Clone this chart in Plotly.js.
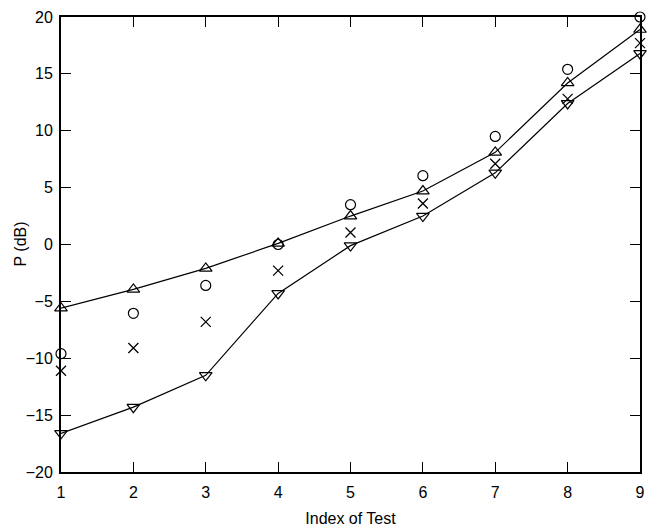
<!DOCTYPE html>
<html>
<head>
<meta charset="utf-8">
<script src="https://cdn.plot.ly/plotly-3.0.1.min.js"></script>
<style>html,body{margin:0;padding:0;background:#fff;}#chart{width:663px;height:532px;}</style>
</head>
<body>
<div id="chart"></div>
<script>
var testIndex = [1, 2, 3, 4, 5, 6, 7, 8, 9];
var upperBound = [-5.6, -3.95, -2.1, 0.1, 2.5, 4.7, 8.1, 14.2, 18.9];
var circleSeries = [-9.6, -6.05, -3.6, 0, 3.5, 6.05, 9.5, 15.4, 20];
var crossSeries = [-11.1, -9.1, -6.8, -2.3, 1.05, 3.6, 7.1, 12.8, 17.7];
var lowerBound = [-16.6, -14.3, -11.5, -4.3, -0.1, 2.5, 6.3, 12.4, 16.8];
var yTicks = [-20, -15, -10, -5, 0, 5, 10, 15, 20];

var traces = [
  {x: testIndex, y: upperBound, mode: 'lines+markers', cliponaxis: false,
   line: {color: '#000', width: 1.2},
   marker: {symbol: 'triangle-up-open', size: 11, color: '#000', line: {width: 1.2}}},
  {x: testIndex, y: lowerBound, mode: 'lines+markers', cliponaxis: false,
   line: {color: '#000', width: 1.2},
   marker: {symbol: 'triangle-down-open', size: 11, color: '#000', line: {width: 1.2}}},
  {x: testIndex, y: circleSeries, mode: 'markers', cliponaxis: false,
   marker: {symbol: 'circle-open', size: 10, color: '#000', line: {width: 1.2}}},
  {x: testIndex, y: crossSeries, mode: 'markers', cliponaxis: false,
   marker: {symbol: 'x-thin-open', size: 10, color: '#000', line: {width: 1.3}}}
];

var fam = '"Liberation Sans", Arial, sans-serif';
var layout = {
  width: 663, height: 532,
  margin: {l: 61, r: 23, t: 17, b: 60},
  paper_bgcolor: '#fff', plot_bgcolor: '#fff',
  showlegend: false,
  font: {family: fam, size: 16, color: '#000'},
  xaxis: {
    range: [1, 9], tickvals: testIndex, ticktext: testIndex.map(String),
    showgrid: false, zeroline: false, showline: true, mirror: 'ticks',
    linecolor: '#000', linewidth: 2, ticks: 'inside', ticklen: 10, tickwidth: 1, tickcolor: '#000',
    ticklabelstandoff: 5,
    title: {text: 'Index of Test', font: {size: 16}, standoff: 13}
  },
  yaxis: {
    range: [-20, 20], tickvals: yTicks, ticktext: yTicks.map(function(v){return v < 0 ? '\u2212' + Math.abs(v) : String(v);}),
    showgrid: false, zeroline: false, showline: true, mirror: 'ticks',
    linecolor: '#000', linewidth: 2, ticks: 'inside', ticklen: 10, tickwidth: 1, tickcolor: '#000',
    ticklabelstandoff: 3
  },
  annotations: [{
    text: 'P (dB)', xref: 'paper', yref: 'paper', x: 0, y: 0.5,
    xanchor: 'center', yanchor: 'middle', xshift: -41, textangle: -90,
    showarrow: false, font: {family: fam, size: 16, color: '#000'}
  }]
};

Plotly.newPlot('chart', traces, layout, {displayModeBar: false, staticPlot: true});
</script>
</body>
</html>
